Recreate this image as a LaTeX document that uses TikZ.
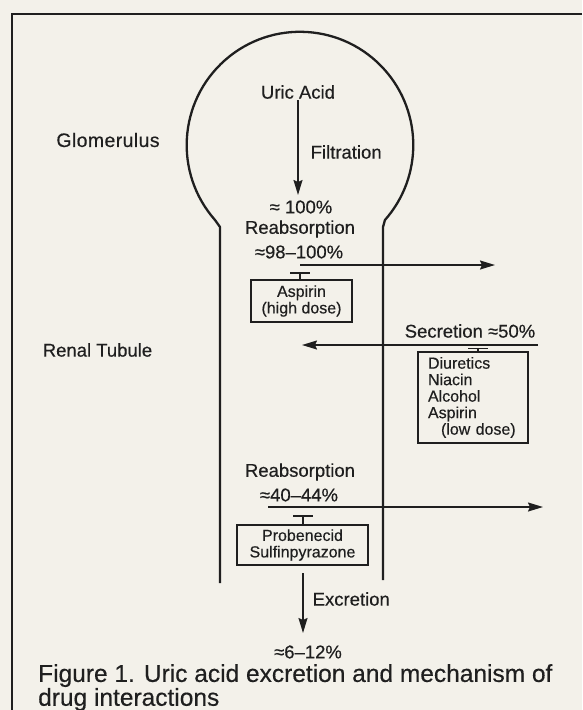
\documentclass[tikz,border=0pt]{standalone}
\usepackage{fontspec}
\setmainfont{Liberation Sans}[FakeBold=0.4]
\usetikzlibrary{arrows.meta}
\definecolor{ink}{HTML}{1F1F1F}
\definecolor{paper}{HTML}{F3F1EA}
\tikzset{
  lbl/.style={font=\fontsize{18.5}{20}\selectfont, text=ink, inner sep=1.5pt},
  boxlbl/.style={draw=ink, line width=1.2pt, font=\fontsize{16}{16.5}\selectfont, text=ink, align=center, inner sep=0pt},
  flow/.style={draw=ink, line width=1.5pt, -{Stealth[length=15pt,width=9pt,inset=2pt]}},
  inhib/.style={draw=ink, line width=1.3pt, -{Bar[width=20pt,line width=1.5pt]}},
  wall/.style={draw=ink, line width=2.3pt, line join=round},
}
\begin{document}
\begin{tikzpicture}[x=1pt,y=-1pt]
\fill[paper] (0,0) rectangle (582,710);
\useasboundingbox (0,0) rectangle (582,710);
% frame
\draw[ink, line width=2.6pt] (582,14) -- (12,14) -- (12,710);
% glomerulus and tubule
\draw[wall] (220,583) -- (220,227) -- (215,220)
  arc[start angle=138.6, end angle=401.4, radius=113.3] -- (383,227) -- (383,580);
% side labels
\node[lbl, font=\fontsize{19.5}{20}\selectfont] (glom) at (108,140) {\addfontfeatures{LetterSpace=2}Glomerulus};
\node[lbl] (renal) at (97.5,350) {Renal Tubule};
% filtration
\node[lbl] (uric) at (298,92) {Uric Acid};
\node[lbl, anchor=west] (filt) at (309,152) {Filtration};
\coordinate (fe) at (298,195);
\draw[flow] (uric) -- (fe);
\node[lbl] (p100) at (301,207) {≈ 100\%};
% first reabsorption
\node[lbl] (reab1) at (300,229) {Reabsorption};
\node[lbl] (p98) at (299,252) {≈98–100\%};
\coordinate (r1s) at (300,265);
\coordinate (r1e) at (495,265);
\draw[flow] (r1s) -- (r1e);
\node[boxlbl, minimum width=101, minimum height=42] (asp) at (301.5,301) {Aspirin\\(high dose)};
\coordinate (t1) at (300,272);
\draw[inhib] (asp.north -| t1) -- (t1);
% secretion
\node[lbl] (secr) at (470,331) {Secretion ≈50\%};
\coordinate (s2s) at (538,345);
\coordinate (s2e) at (302,345);
\draw[flow] (s2s) -- (s2e);
\node[boxlbl, minimum width=110, minimum height=91, text width=90, align=left] (diur) at (473,397.5)
  {Diuretics\\Niacin\\Alcohol\\Aspirin\\\hspace*{13pt}(low dose)};
\coordinate (t2) at (478,347.5);
\draw[inhib] (diur.north -| t2) -- (t2);
% second reabsorption
\node[lbl] (reab2) at (300,472) {Reabsorption};
\node[lbl] (p40) at (299,495) {≈40–44\%};
\coordinate (r3s) at (268,507);
\coordinate (r3e) at (543,507);
\draw[flow] (r3s) -- (r3e);
\node[boxlbl, minimum width=131, minimum height=40] (prob) at (302.5,545) {Probenecid\\Sulfinpyrazone};
\coordinate (t3) at (303,515);
\draw[inhib] (prob.north -| t3) -- (t3);
% excretion
\coordinate (xs) at (303,573);
\coordinate (xe) at (303,633);
\draw[flow] (xs) -- (xe);
\node[lbl, anchor=west] (excr) at (311,599) {Excretion};
\node[lbl] (p6) at (308,652) {≈6–12\%};
% caption
\node[anchor=west, align=left, inner sep=0pt, text=ink, font=\fontsize{24.5}{22}\selectfont] (cap) at (38,687.5)
  {Figure 1. Uric acid excretion and mechanism of\\drug interactions};
\end{tikzpicture}
\end{document}
